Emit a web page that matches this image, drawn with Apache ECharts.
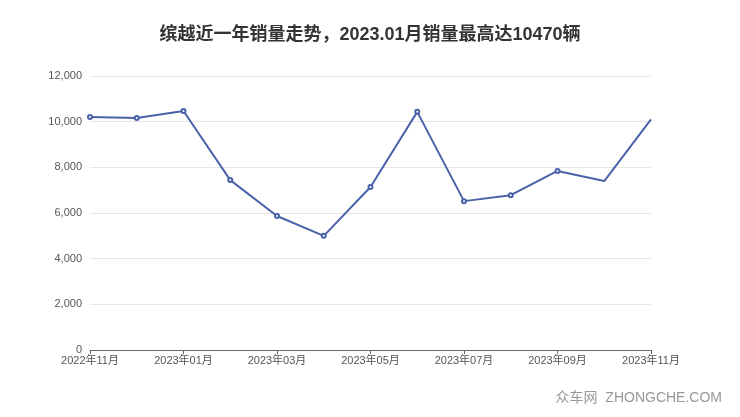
<!DOCTYPE html>
<html>
<head>
<meta charset="utf-8">
<script src="https://cdn.jsdelivr.net/npm/echarts@6/dist/echarts.min.js"></script>
<style>
  html, body { margin: 0; padding: 0; background: #fff; }
  #main { width: 740px; height: 417px; }
</style>
</head>
<body>
<div id="main"></div>
<script>
const months = ['2022年11月', '2022年12月', '2023年01月', '2023年02月', '2023年03月', '2023年04月', '2023年05月',
  '2023年06月', '2023年07月', '2023年08月', '2023年09月', '2023年10月', '2023年11月']
const sales = [10200, 10160, 10470, 7440, 5870, 5000, 7140, 10430, 6520, 6780, 7840, 7400, 10100]
const yTicks = [0, 2000, 4000, 6000, 8000, 10000, 12000]

let chart = echarts.init(document.getElementById('main'))
const font = '"Liberation Sans", "Noto Sans CJK SC", sans-serif'

chart.setOption({
  animation: false,
  title: {
    text: '缤越近一年销量走势，2023.01月销量最高达10470辆',
    left: 'center',
    top: 21,
    textStyle: { fontSize: 18, fontWeight: 'bold', color: '#333', fontFamily: font }
  },
  grid: { left: 90, right: 89, top: 76, bottom: 67 },
  xAxis: {
    type: 'category',
    boundaryGap: false,
    data: months,
    axisLine: { lineStyle: { color: '#666' } },
    axisTick: { interval: 1, length: 4 },
    axisLabel: { interval: 1, color: '#555', fontSize: 11, fontFamily: font, margin: 5 }
  },
  yAxis: {
    type: 'value',
    min: yTicks[0],
    max: yTicks[yTicks.length - 1],
    interval: 2000,
    axisLabel: {
      color: '#555', fontSize: 11, fontFamily: font,
      formatter: v => v.toLocaleString('en-US')
    },
    splitLine: { lineStyle: { color: '#e6e6e6' } }
  },
  series: [{
    type: 'line',
    data: sales.map((v, i) => i >= 11 ? { value: v, symbolSize: 0 } : v),
    symbol: 'emptyCircle',
    symbolSize: 4,
    showAllSymbol: true,
    lineStyle: { color: '#4a62a8', width: 2 },
    itemStyle: { color: '#4a62a8', borderWidth: 1.5 }
  }],
  graphic: [{
    type: 'text',
    right: 18,
    bottom: 12,
    style: { text: '众车网  ZHONGCHE.COM', fill: '#999', fontSize: 14, fontFamily: font }
  }]
})
</script>
</body>
</html>
